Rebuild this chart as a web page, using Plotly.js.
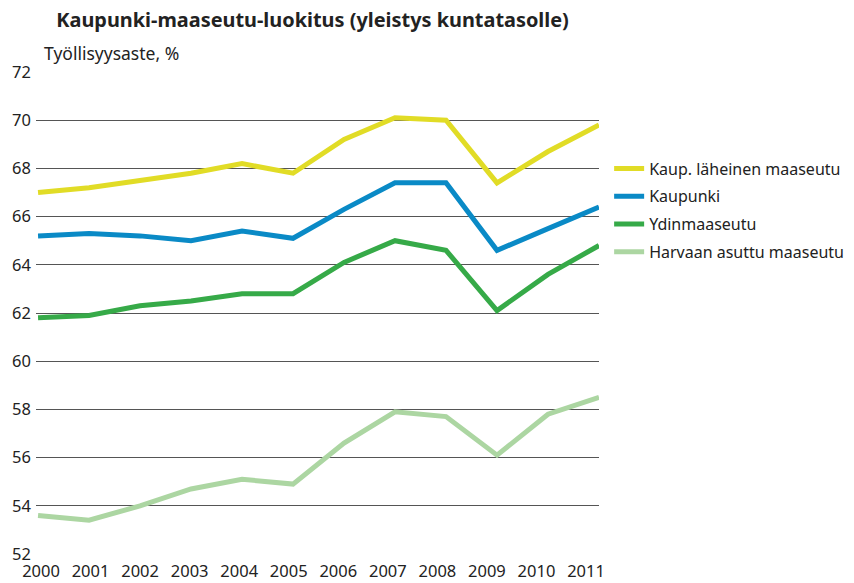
<!DOCTYPE html>
<html>
<head>
<meta charset="utf-8">
<script src="https://cdn.plot.ly/plotly-3.0.1.min.js"></script>
<style>html,body{margin:0;padding:0;background:#fff;}#chart{width:854px;height:583px;}</style>
</head>
<body>
<div id="chart"></div>
<script>
const years = [2000, 2001, 2002, 2003, 2004, 2005, 2006, 2007, 2008, 2009, 2010, 2011];
const seriesNames = ["Kaup. läheinen maaseutu", "Kaupunki", "Ydinmaaseutu", "Harvaan asuttu maaseutu"];
const kaupLaheinen = [67.0, 67.2, 67.5, 67.8, 68.2, 67.8, 69.2, 70.1, 70.0, 67.4, 68.7, 69.8];
const kaupunki     = [65.2, 65.3, 65.2, 65.0, 65.4, 65.1, 66.3, 67.4, 67.4, 64.6, 65.5, 66.4];
const ydinmaaseutu = [61.8, 61.9, 62.3, 62.5, 62.8, 62.8, 64.1, 65.0, 64.6, 62.1, 63.6, 64.8];
const harvaan      = [53.6, 53.4, 54.0, 54.7, 55.1, 54.9, 56.6, 57.9, 57.7, 56.1, 57.8, 58.5];
const yTicks = [52, 54, 56, 58, 60, 62, 64, 66, 68, 70, 72];

const colors = ["#e1dc26", "#0a8ac6", "#36aa48", "#acd6a2"];
const values = [kaupLaheinen, kaupunki, ydinmaaseutu, harvaan];

const font = "Noto Sans, Open Sans, sans-serif";
const traces = values.map((v, i) => ({
  x: years, y: v, type: "scatter", mode: "lines",
  name: seriesNames[i], legendgroup: "g" + i,
  line: {color: colors[i], width: 5},
  cliponaxis: false
}));
// invisible carrier trace for the tick-label axis
traces.push({
  x: years, y: years.map(() => null), xaxis: "x2", yaxis: "y",
  type: "scatter", mode: "lines", showlegend: false, hoverinfo: "skip"
});

const layout = {
  width: 854, height: 583,
  margin: {l: 36, r: 255, t: 72, b: 29, autoexpand: false},
  paper_bgcolor: "#fff", plot_bgcolor: "#fff",
  font: {family: font, size: 16, color: "#222"},
  title: {
    text: "<b>Kaupunki-maaseutu-luokitus (yleistys kuntatasolle)</b>",
    font: {family: font, size: 19.9, color: "#222"},
    xref: "container", x: 0.366, xanchor: "center",
    yref: "container", y: 0.965, yanchor: "middle"
  },
  xaxis: {
    range: [1999.96, 2011.0],
    showticklabels: false,
    showgrid: false, zeroline: false, showline: false, ticks: ""
  },
  xaxis2: {
    overlaying: "x", anchor: "y", side: "bottom",
    range: [1999.899, 2011.262],
    tickmode: "array", tickvals: years, ticktext: years.map(String),
    showgrid: false, zeroline: false, showline: false, ticks: "",
    ticklabelstandoff: 5,
    tickfont: {family: font, size: 16.5, color: "#222"}
  },
  yaxis: {
    range: [52, 72],
    tickmode: "array", tickvals: yTicks, ticktext: yTicks.map(String),
    showgrid: true, gridcolor: "#555", gridwidth: 1,
    zeroline: false, showline: false, ticks: "",
    ticklabelstandoff: 4,
    tickfont: {family: font, size: 16.5, color: "#222"}
  },
  legend: {
    x: 1.018, xanchor: "left", y: 0.835, yanchor: "top",
    font: {family: font, size: 16, color: "#222"},
    tracegroupgap: 4, bgcolor: "rgba(0,0,0,0)"
  },
  showlegend: true,
  annotations: [{
    text: "Työllisyysaste, %", xref: "paper", yref: "paper",
    x: 0.01, xanchor: "left", y: 1.04, yanchor: "middle",
    showarrow: false, font: {family: font, size: 17.5, color: "#222"}
  }]
};

Plotly.newPlot("chart", traces, layout, {displayModeBar: false, staticPlot: true});
</script>
</body>
</html>
